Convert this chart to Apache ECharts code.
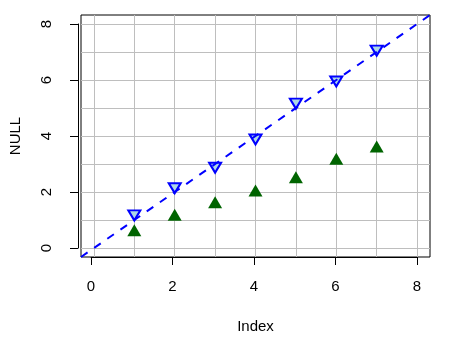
<!DOCTYPE html>
<html>
<head>
<meta charset="utf-8">
<script src="https://cdn.jsdelivr.net/npm/echarts@6/dist/echarts.min.js"></script>
<style>
  html, body { margin: 0; padding: 0; background: #fff; }
  #chart { width: 471px; height: 354px; }
</style>
</head>
<body>
<div id="chart"></div>
<script>
// data
const indexVals = [1, 2, 3, 4, 5, 6, 7];
const blueVals = [1.23, 2.2, 2.93, 3.94, 5.22, 6.01, 7.11];
const greenVals = [0.56, 1.12, 1.56, 1.98, 2.46, 3.12, 3.55];
const tickRange = [0, 8];
const tickStep = 2;
const gridVals = [0, 1, 2, 3, 4, 5, 6, 7, 8];
const axisLim = [-0.32, 8.32];

const font = '"Liberation Sans", Arial, sans-serif';

// plot box
const W = 471, H = 354;
const box = { left: 78, right: 41, top: 15, bottom: 97 };
const plotW = W - box.left - box.right;
const plotH = H - box.top - box.bottom;
// R pads the range by 4%, so ticks 0..8 sit inside the box
const padFrac = (tickRange[0] - axisLim[0]) / (axisLim[1] - axisLim[0]);
const padX = plotW * padFrac;
const padY = plotH * padFrac;

const chart = echarts.init(document.getElementById('chart'));

const gridLines = [];
gridVals.forEach(v => {
    gridLines.push({ xAxis: v });
    gridLines.push({ yAxis: v });
});

const textStyle = { fontFamily: font, fontSize: 15, color: '#000' };

function mainAxis(name, gap) {
    return {
        type: 'value',
        gridIndex: 0,
        min: axisLim[0],
        max: axisLim[1],
        name: name,
        nameLocation: 'middle',
        nameGap: gap,
        nameTextStyle: textStyle,
        axisLine: { show: false, onZero: false },
        axisTick: { show: false },
        axisLabel: { show: false },
        splitLine: { show: false }
    };
}

function tickAxis(gridIndex, labelExtra) {
    return {
        type: 'value',
        gridIndex: gridIndex,
        min: tickRange[0],
        max: tickRange[1],
        interval: tickStep,
        axisLine: { show: true, onZero: false, lineStyle: { color: '#000', width: 1 } },
        axisTick: { show: true, length: 8, inside: false, lineStyle: { color: '#000', width: 1 } },
        axisLabel: Object.assign({ show: true }, textStyle, labelExtra),
        splitLine: { show: false }
    };
}

function hiddenAxis(gridIndex) {
    return { type: 'value', gridIndex: gridIndex, show: false, min: tickRange[0], max: tickRange[1] };
}

const option = {
    animation: false,
    grid: [
        {
            left: box.left, right: box.right, top: box.top, bottom: box.bottom,
            show: true,
            borderColor: '#000',
            borderWidth: 1,
            backgroundColor: 'transparent'
        },
        // x ticks: same height as the box, width covering 0..8
        { left: box.left + padX, right: box.right + padX, top: box.top, bottom: box.bottom },
        // y ticks: same width as the box, height covering 0..8
        { left: box.left, right: box.right, top: box.top + padY, bottom: box.bottom + padY }
    ],
    xAxis: [
        mainAxis('Index', 62),
        tickAxis(1, { margin: 22 }),
        hiddenAxis(2)
    ],
    yAxis: [
        mainAxis('NULL', 58),
        hiddenAxis(1),
        tickAxis(2, { rotate: 90, margin: 24 })
    ],
    series: [
        {
            // grid lines
            type: 'line',
            data: [],
            silent: true,
            z: 0,
            markLine: {
                silent: true,
                z: 0,
                symbol: 'none',
                label: { show: false },
                lineStyle: { color: '#bebebe', width: 1, type: 'solid' },
                data: gridLines
            }
        },
        {
            type: 'scatter',
            z: 3,
            data: indexVals.map((x, i) => [x, greenVals[i]]),
            symbol: 'triangle',
            symbolSize: [14, 12],
            symbolOffset: [0, -2],
            itemStyle: { color: '#006400', borderWidth: 0, opacity: 1 }
        },
        {
            type: 'scatter',
            z: 3,
            data: indexVals.map((x, i) => [x, blueVals[i]]),
            symbol: 'path://M0,0 L12,0 L6,10 Z',
            symbolSize: [12, 10],
            symbolOffset: [0, 1.8],
            itemStyle: { color: '#add8e6', borderColor: '#0000ff', borderWidth: 2, opacity: 1 }
        },
        {
            // abline(0, 1)
            type: 'line',
            z: 4,
            data: [[axisLim[0], axisLim[0]], [axisLim[1], axisLim[1]]],
            showSymbol: false,
            symbol: 'none',
            lineStyle: { color: '#0000ff', width: 2, type: [8, 8] }
        }
    ]
};

chart.setOption(option);
window.addEventListener('resize', () => chart.resize());
</script>
</body>
</html>
